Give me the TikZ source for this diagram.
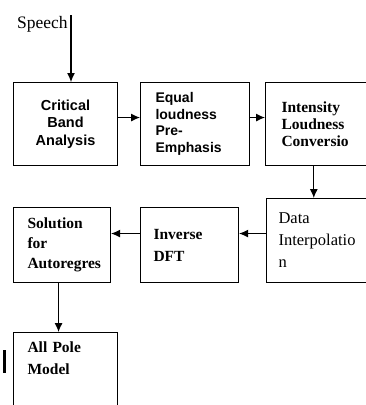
\documentclass[tikz,border=0pt]{standalone}
\usepackage{fontspec}
\setmainfont{Liberation Serif}
\newfontfamily\arialf{Liberation Sans}
\usepackage{tikz}
\usetikzlibrary{arrows.meta,positioning}

\tikzset{
blk/.style={draw, line width=1.1pt, anchor=north west, inner ysep=3pt, align=left},
sansblk/.style={blk, font=\arialf\bfseries\fontsize{14}{17}\selectfont},
serifblk/.style={blk, font=\bfseries\fontsize{15.5}{17}\selectfont},
arr/.style={-{Latex[length=9pt,width=8pt]}, line width=1.1pt}
}

\begin{document}
\begin{tikzpicture}[x=1pt,y=-1pt]
\useasboundingbox (0,0) rectangle (366,405);

%input
\node[anchor=base west, inner sep=0pt, font=\fontsize{17.5}{19}\selectfont] (speech) at (17,28) {Speech};
\coordinate (sptop) at (71,15);

%first row
\node[sansblk, align=center, minimum height=83pt, text width=76pt, inner xsep=14pt, font=\arialf\bfseries\fontsize{14.5}{17.5}\selectfont] (cba) at (13,82) {Critical\\Band\\Analysis};
\node[sansblk, minimum height=83pt, text width=79pt, inner xsep=15pt, font=\arialf\bfseries\fontsize{14}{16.5}\selectfont] (elp) at (140,82) {Equal\\loudness\\Pre-\\Emphasis};
\node[serifblk, minimum height=83pt, text width=68.5pt, inner xsep=16pt] (ilc) at (265,82) {Intensity\\Loudness\\Conversio};

%second row
\node[blk, minimum height=84pt, text width=75.5pt, inner xsep=12pt, font=\fontsize{16.5}{22}\selectfont] (dip) at (266,198) {Data\\Interpolatio\\n};
\node[serifblk, minimum height=75pt, text width=72pt, inner xsep=13pt, font=\bfseries\fontsize{15.5}{22}\selectfont] (idft) at (140,207) {Inverse\\DFT\\[-4pt]};
\node[serifblk, minimum height=75pt, text width=69pt, inner xsep=14pt, font=\bfseries\fontsize{15.5}{20}\selectfont] (sar) at (13,207) {Solution\\for\\Autoregres};

%output
\node[serifblk, text width=76pt, inner xsep=14pt, inner ysep=9pt, text depth=60pt, font=\bfseries\fontsize{15.5}{22}\selectfont] (apm) at (13,332) {All Pole\\Model};
\draw[line width=2.5pt] (4.5,350) -- (4.5,373);

%connectors
\draw[arr] (sptop) -- (sptop |- cba.north);
\draw[arr] ([yshift=6.5pt]cba.east) -- ([yshift=6.5pt]elp.west);
\draw[arr] ([yshift=6.5pt]elp.east) -- ([yshift=6.5pt]ilc.west);
\draw[arr] ([xshift=-2pt]ilc.south) -- ([xshift=-2pt]ilc.south |- dip.north);
\draw[arr] ([yshift=7pt]dip.west) -- ([yshift=11.5pt]idft.east);
\draw[arr] ([yshift=11.5pt]idft.west) -- ([yshift=11.5pt]sar.east);
\draw[arr] ([xshift=-3.5pt]sar.south) -- ([xshift=-3.5pt]sar.south |- apm.north);
\end{tikzpicture}
\end{document}
